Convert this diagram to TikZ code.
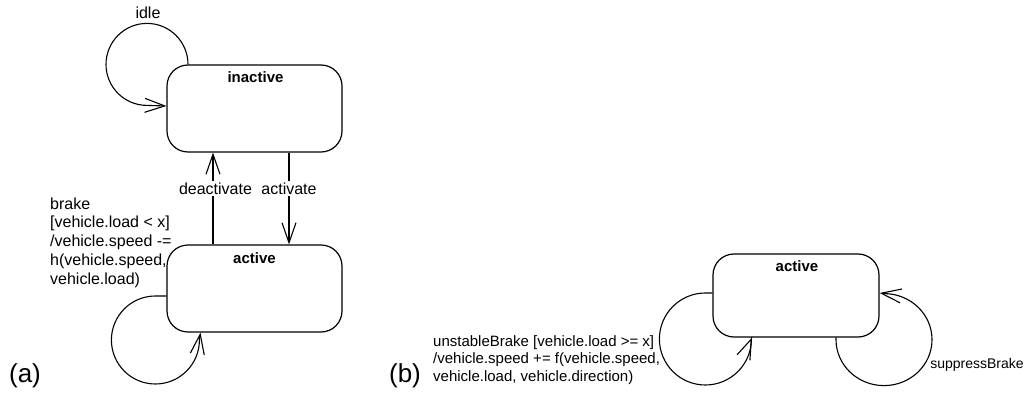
\documentclass[tikz,border=0pt]{standalone}
\usepackage{fontspec}
\setmainfont{Liberation Sans}
\usetikzlibrary{arrows.meta,calc}

\tikzset{
  state/.style={draw, line width=1.2pt, rounded corners=21pt, inner sep=0pt},
  statename/.style={font=\bfseries\fontsize{15}{18}\selectfont, inner sep=0pt},
  trans/.style={line width=1.1pt, -{Straight Barb[length=20pt,width=14pt,line width=1.1pt]}},
  evt/.style={font=\fontsize{16}{18.7}\selectfont, inner sep=0pt},
  evtsmall/.style={font=\fontsize{15}{17.5}\selectfont, inner sep=0pt},
  onwire/.style={evt, fill=white, inner sep=1.5pt},
  panel/.style={font=\fontsize{26}{29}\selectfont, inner sep=0pt}
}

\begin{document}
\begin{tikzpicture}[x=1pt, y=-1pt]
  \useasboundingbox (0,0) rectangle (1027,398);

  % ---- (a): inactive / active machine ----
  \node[state, minimum width=175pt, minimum height=87pt] (inactive) at (254.5,108.5) {};
  \node[statename] (inactive-name) at ($(inactive.north)+(1,13)$) {inactive};

  \node[state, minimum width=175pt, minimum height=87pt] (active) at (254.5,288.5) {};
  \node[statename] (active-name) at ($(active.north)+(0,14)$) {active};

  % idle self-loop on inactive
  \draw[trans] ($(inactive.north)+(-66.5,0)$)
    arc[start angle=0, end angle=-270, radius=41]
    -- ($(inactive.west)+(0,-2.5)$);
  \node[evt] (idle) at (148,13) {idle};

  % deactivate / activate
  \draw[trans] ($(active.north)+(-41.5,0)$) -- node[onwire, pos=0.61, xshift=2.5pt] (deact) {deactivate}
    ($(inactive.south)+(-41.5,0)$);
  \draw[trans] ($(inactive.south)+(34.5,0)$) -- node[onwire, pos=0.39] (act) {activate}
    ($(active.north)+(34.5,0)$);

  % brake self-loop on active
  \draw[trans] ($(active.west)+(0,7.5)$) -- ++(-11,0)
    arc[start angle=-90, end angle=-360, radius=44]
    -- ($(active.south)+(-54,0)$);
  \node[evt, anchor=north west, align=left] (brake) at (50,197.5)
    {brake\\{[}vehicle.load < x{]}\\/vehicle.speed -=\\h(vehicle.speed,\\vehicle.load)};

  \node[panel] (pa) at (25,376) {(a)};

  % ---- (b): active with unstable brake ----
  \node[state, minimum width=166pt, minimum height=83pt] (bactive) at (796,295.5) {};
  \node[statename] (bactive-name) at ($(bactive.north)+(1,13)$) {active};

  \draw[trans] ($(bactive.west)+(0,-2.5)$) -- ++(-7,0)
    arc[start angle=-90, end angle=-360, radius=46]
    -- ($(bactive.south)+(-44,0)$);
  \node[evtsmall, anchor=north west, align=left] (unstable) at (433,335)
    {unstableBrake {[}vehicle.load >= x{]}\\/vehicle.speed += f(vehicle.speed,\\vehicle.load, vehicle.direction)};

  \draw[trans] ($(bactive.south)+(40,0)$) -- ++(0,2)
    arc[start angle=180, end angle=-90, x radius=48, y radius=46]
    -- ($(bactive.east)+(0,-2.5)$);
  \node[evtsmall, font=\fontsize{14}{17}\selectfont] (suppress) at (977,365) {suppressBrake};

  \node[panel] (pb) at (405,376) {(b)};
\end{tikzpicture}
\end{document}
